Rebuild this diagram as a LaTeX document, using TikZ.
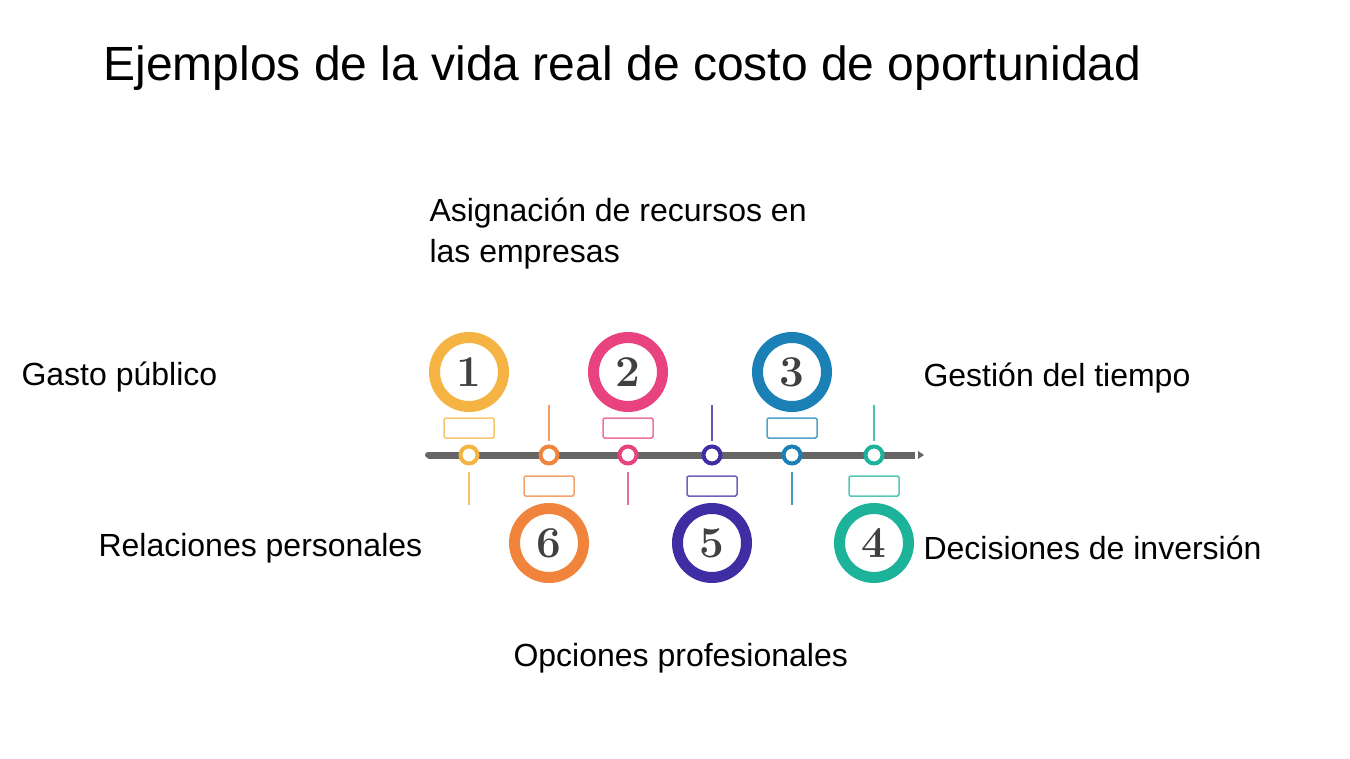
\documentclass[tikz,border=0pt]{standalone}
\usepackage{fontspec}
\setmainfont{Liberation Sans}
\newfontfamily\numfont{Latin Modern Roman}
\definecolor{cA}{HTML}{F4B342}
\definecolor{cB}{HTML}{E8437E}
\definecolor{cC}{HTML}{1A80B6}
\definecolor{cD}{HTML}{1DB39B}
\definecolor{cE}{HTML}{3F2EA3}
\definecolor{cF}{HTML}{F0843C}
\begin{document}
\begin{tikzpicture}[x=1pt,y=-1pt,
  big/.style={circle,draw=#1,line width=11pt,minimum size=69pt,inner sep=0pt,font=\numfont\bfseries\fontsize{44}{44}\selectfont,text=black!75},
  small/.style={circle,draw=#1,line width=4pt,fill=white,minimum size=17pt,inner sep=0pt},
  box/.style={draw=#1!75,line width=1.5pt,rounded corners=1.5pt,minimum width=50pt,minimum height=20pt,inner sep=0pt},
  stem/.style={draw=#1!80,line width=1.5pt},
  lbl/.style={font=\fontsize{32}{41}\selectfont,anchor=west,align=left}]
\useasboundingbox (0,0) rectangle (1350,759);
\node[anchor=base west,font=\fontsize{48}{48}\selectfont] (title) at (100,81) {Ejemplos de la vida real de costo de oportunidad};
\coordinate (ls) at (428,455); \coordinate (le) at (915,455);
\draw[black!60,line width=7pt] (ls) -- (le);
\fill[black!60] (ls) circle (3);
\fill[black!60] (918,451) -- (924,455) -- (918,459) -- cycle;
\foreach \n/\x/\c in {1/469/cA,2/628/cB,3/792/cC}{
  \node[big=\c] (b\n) at (\x,372) {\n};
  \node[box=\c] (r\n) at (\x,428) {};
  \node[small=\c] (s\n) at (\x,455) {};
  \coordinate (e\n) at (\x,505);
  \draw[stem=\c] (s\n.south) ++(0,6) -- (e\n);
}
\foreach \n/\x/\c in {6/549/cF,5/712/cE,4/874/cD}{
  \node[big=\c] (b\n) at (\x,543) {\n};
  \node[box=\c] (r\n) at (\x,486) {};
  \node[small=\c] (s\n) at (\x,455) {};
  \coordinate (e\n) at (\x,405);
  \draw[stem=\c] (s\n.north) ++(0,-4) -- (e\n);
}
\node[lbl] (t1) at (18,377) {Gasto público};
\node[lbl] (t2) at (426,234) {Asignación de recursos en\\las empresas};
\node[lbl] (t3) at (920,378) {Gestión del tiempo};
\node[lbl] (t4) at (920,548) {Decisiones de inversión};
\node[lbl] (t5) at (510,658) {Opciones profesionales};
\node[lbl] (t6) at (95,548) {Relaciones personales};
\end{tikzpicture}
\end{document}
